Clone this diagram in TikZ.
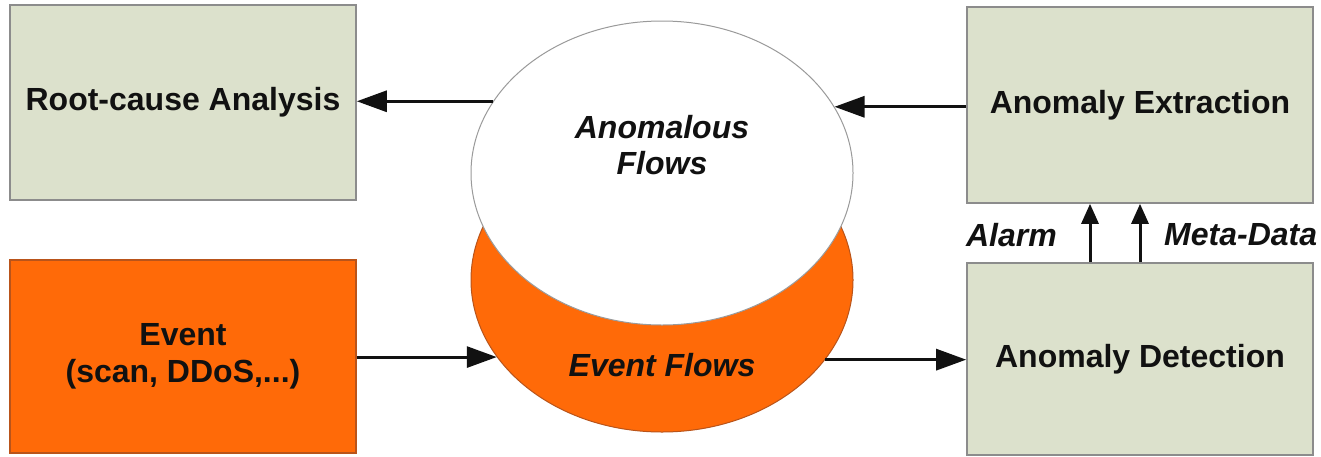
\documentclass[tikz,border=0pt]{standalone}
\usepackage{fontspec}
\setmainfont{Liberation Sans}
\usetikzlibrary{shapes.geometric,arrows.meta}
\definecolor{boxgray}{HTML}{DCE1CC}
\definecolor{boxline}{HTML}{8C8C8C}
\definecolor{evorange}{HTML}{FF6A08}
\definecolor{evline}{HTML}{B9541A}
\definecolor{elline}{HTML}{9A9A9A}
\definecolor{inkc}{HTML}{111111}
\begin{document}
\begin{tikzpicture}[x=1pt,y=-1pt,
  txt/.style={font=\fontsize{32}{37}\selectfont\bfseries, text=inkc, align=center},
  itxt/.style={font=\fontsize{32}{36}\selectfont\bfseries\itshape, text=inkc, align=center},
  graybox/.style={draw=boxline, line width=1.6pt, fill=boxgray, minimum width=346pt, inner sep=0pt, txt},
  orangebox/.style={draw=evline, line width=1.2pt, fill=evorange, minimum width=346pt, inner sep=0pt, txt},
  flowell/.style={ellipse, minimum width=382pt, minimum height=304pt, inner sep=0pt},
  arr/.style={line width=3pt, draw=inkc, -{Triangle[length=30pt,width=21pt]}},
  arrsmall/.style={line width=3pt, draw=inkc, -{Triangle[length=20pt,width=17pt]}}
]
\fill[white] (0,0) rectangle (1321,456);
\useasboundingbox (0,0) rectangle (1321,456);

% boxes
\node[graybox, minimum height=195pt] (root) at (183,102.5) {Root-cause Analysis};
\node[orangebox, minimum height=193pt] (event) at (183,356.5) {Event\\(scan, DDoS,...)};
\node[graybox, minimum height=196pt] (ext) at (1140,105) {Anomaly Extraction};
\node[graybox, minimum height=192pt] (det) at (1140,359) {Anomaly Detection};

% flow ellipses
\node[flowell, draw=evline, line width=1pt, fill=evorange] (oel) at (662,280) {};
\node[flowell, draw=elline, line width=1pt, fill=white] (wel) at (662,173) {};
\node[itxt] (anom) at (662,145) {Anomalous\\Flows};
\node[itxt] (evfl) at (662,365) {Event Flows};

% connectors
\draw[arr] (wel.157.2) -- (wel.157.2 -| root.east);
\draw[arr] (ext.west |- wel.21.35) -- (wel.21.35);
\draw[arr] (event.east |- oel.205.4) -- (oel.205.4);
\draw[arr] (oel.334.6) -- (oel.334.6 -| det.west);
\draw[arrsmall] ([xshift=-50pt]det.north) -- ([xshift=-50pt]ext.south);
\draw[arrsmall] (det.north) -- (ext.south);

% labels
\node[itxt, anchor=east, inner sep=0pt] (alarm) at (1057,235) {Alarm};
\node[itxt, anchor=west, inner sep=0pt] (meta) at (1164,235) {Meta-Data};
\end{tikzpicture}
\end{document}
